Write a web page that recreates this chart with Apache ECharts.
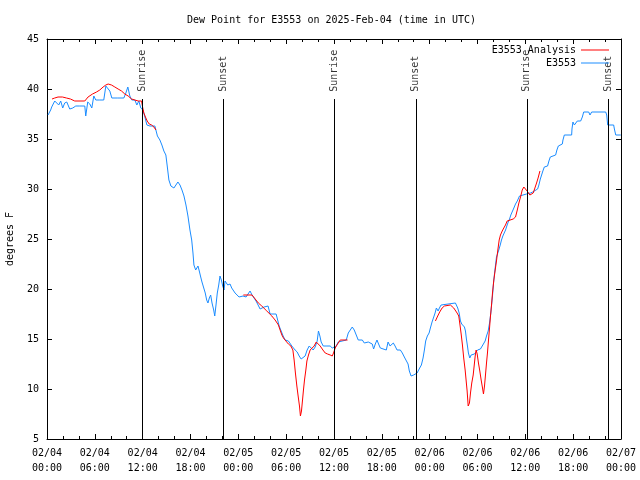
<!DOCTYPE html>
<html>
<head>
<meta charset="utf-8">
<script src="https://cdn.jsdelivr.net/npm/echarts@6/dist/echarts.min.js"></script>
<style>html,body{margin:0;padding:0;background:#fff}#c{width:640px;height:480px}</style>
</head>
<body>
<div id="c"></div>
<script>
// ---- data (hours since 02/04 00:00 UTC, degrees F) ----
const xTickLabels = ['02/04\n00:00','02/04\n06:00','02/04\n12:00','02/04\n18:00','02/05\n00:00','02/05\n06:00','02/05\n12:00','02/05\n18:00','02/06\n00:00','02/06\n06:00','02/06\n12:00','02/06\n18:00','02/07\n00:00'];
const eventHours = [11.97, 22.12, 36.07, 46.27, 60.19, 70.37];
const eventNames = ['Sunrise','Sunset','Sunrise','Sunset','Sunrise','Sunset'];

const blueHours = [0.13,0.34,0.46,0.59,0.97,1.22,1.47,1.72,1.97,2.22,2.48,2.85,3.23,3.61,4.11,4.74,4.86,5.11,5.37,5.62,5.87,6.12,6.62,7.12,7.38,7.63,7.88,8.13,8.88,9.64,9.89,10.14,10.39,10.64,11.02,11.27,11.52,11.77,12.03,12.28,12.53,12.91,13.53,13.66,13.85,14.16,14.41,14.66,14.91,15.08,15.29,15.54,15.92,16.17,16.42,16.68,16.93,17.18,17.43,17.68,17.93,18.15,18.31,18.43,18.65,18.81,18.94,19.10,19.28,19.44,19.69,19.85,20.03,20.19,20.36,20.53,20.70,20.91,21.04,21.20,21.36,21.54,21.70,21.87,22.04,22.21,22.33,22.49,22.67,22.83,22.96,23.17,23.37,23.59,23.84,24.09,24.34,24.59,24.81,24.97,25.22,25.47,25.72,25.97,26.22,26.48,26.73,26.98,27.23,27.48,27.73,27.98,28.74,28.90,29.12,29.37,29.62,29.87,30.12,30.28,30.50,30.71,30.91,31.12,31.38,31.63,31.88,32.13,32.38,32.63,32.89,33.14,33.39,33.64,33.89,34.05,34.23,34.39,34.65,34.86,35.11,35.31,35.52,35.78,36.03,36.28,36.53,36.78,37.54,37.79,38.04,38.29,38.54,38.79,39.04,39.29,39.55,39.80,40.05,40.30,40.55,40.80,40.97,41.18,41.39,41.59,41.81,42.06,42.56,42.78,43.03,43.19,43.44,43.66,43.91,44.11,44.32,44.57,44.82,45.07,45.29,45.45,45.67,45.83,45.99,46.42,46.58,46.75,46.96,47.17,47.34,47.50,47.71,47.93,48.09,48.30,48.47,48.68,48.84,49.06,49.22,49.43,49.60,51.23,51.36,51.52,51.70,51.86,52.02,52.20,52.36,52.49,52.61,52.74,52.86,53.03,53.20,53.62,53.83,54.00,54.37,54.59,54.75,54.96,55.13,55.34,55.51,55.67,55.79,55.88,56.01,56.13,56.26,56.38,56.55,56.67,56.85,57.01,57.18,57.35,57.52,57.68,57.85,58.02,58.18,58.39,58.56,58.77,58.99,59.15,59.27,59.44,60.15,60.65,60.91,61.12,61.54,61.70,61.88,62.04,62.20,62.38,62.79,62.96,63.13,63.80,63.96,64.14,64.64,64.72,64.89,65.81,65.85,65.97,66.15,66.31,66.52,66.94,67.15,67.32,67.95,68.11,68.32,70.08,70.21,70.33,71.08,71.17,71.34,71.97];
const blueValues = [37.4,37.4,37.9,38.2,38.8,38.9,38.4,38.8,38.1,38.6,38.7,38.0,38.1,38.3,38.3,38.3,37.3,38.7,38.5,38.1,39.3,38.9,38.9,38.9,40.3,40.1,39.8,39.1,39.1,39.1,39.6,40.2,39.3,38.9,38.9,38.4,38.8,38.1,37.9,37.2,36.4,36.3,36.3,35.9,35.3,34.9,34.4,33.8,33.4,32.3,30.9,30.3,30.1,29.9,30.7,30.4,29.9,29.3,28.4,27.3,25.9,24.9,23.6,22.4,21.9,22.1,22.3,21.8,21.2,20.7,20.6,19.6,18.9,18.6,19.1,19.4,18.6,17.9,17.3,18.4,19.6,20.4,21.3,20.9,20.3,19.9,20.8,21.0,20.4,20.3,20.5,20.1,19.9,19.6,19.4,19.2,19.1,19.3,19.4,19.2,19.5,19.8,19.4,19.2,18.8,18.4,18.0,18.0,18.2,18.4,18.3,17.5,17.5,17.0,16.3,15.8,15.3,14.9,14.7,14.8,14.7,14.3,14.2,13.9,13.7,13.3,13.0,13.0,13.3,13.9,14.3,14.2,13.9,14.2,14.8,15.8,15.3,14.7,14.3,14.1,14.3,14.5,14.3,14.1,14.1,14.3,14.7,14.9,14.9,15.6,15.9,16.2,15.9,15.4,14.9,14.8,14.9,14.6,14.5,14.7,14.9,14.5,14.0,14.5,14.9,14.5,14.1,13.9,13.9,14.7,14.3,14.2,14.6,14.3,13.9,13.8,13.9,13.6,13.2,13.1,12.5,11.8,11.3,11.1,11.4,11.6,11.8,12.1,12.4,13.1,13.9,14.8,15.3,15.6,16.1,16.7,16.9,17.6,18.1,17.8,18.1,18.4,18.6,18.6,18.4,18.1,17.6,16.8,16.5,16.4,16.2,15.8,15.0,14.3,13.6,13.1,13.4,13.5,13.6,13.9,14.0,14.3,14.5,14.8,15.3,15.8,16.6,17.6,18.6,19.3,20.6,21.5,22.4,23.2,23.3,23.9,24.4,24.9,25.3,25.6,25.9,26.3,26.7,27.0,27.4,27.6,28.1,28.5,28.8,28.9,29.3,29.4,29.5,29.6,29.7,29.9,30.0,30.4,31.0,31.4,31.8,32.2,32.3,32.8,33.2,33.4,33.9,34.3,34.5,34.9,35.4,35.4,36.0,36.7,36.4,36.5,36.8,36.8,37.2,37.7,37.7,37.4,37.7,37.7,37.4,36.4,36.4,36.0,35.4,35.4];

const redHours1 = [0.63,0.97,1.38,1.94,2.44,2.94,3.48,4.74,5.15,5.71,6.21,6.62,7.04,7.38,7.67,8.09,8.51,8.92,9.35,9.76,10.18,10.61,11.02,11.44,11.86,11.99,12.15,12.40,12.57,12.82,13.12,13.41,13.66];
const redValues1 = [39.0,39.1,39.2,39.2,39.1,39.0,38.8,38.8,39.2,39.5,39.7,39.9,40.2,40.4,40.5,40.4,40.2,40.0,39.8,39.5,39.3,39.0,38.9,38.8,38.8,38.2,37.6,37.1,36.8,36.5,36.4,36.2,35.9];
const redHours2 = [24.63,25.72,26.51,26.94,27.57,28.20,28.61,29.03,29.24,29.46,29.66,29.96,30.28,30.59,30.84,31.00,31.16,31.34,31.50,31.67,31.79,31.92,32.04,32.17,32.30,32.47,32.60,32.80,33.01,33.22,33.51,33.77,33.93,34.27,34.61,34.90,35.19,35.52,35.78,35.94,36.15,36.37,36.57,36.78,37.70];
const redValues2 = [19.4,19.4,18.6,18.3,17.8,17.3,16.9,16.4,15.9,15.4,15.1,14.8,14.5,14.3,13.9,12.9,11.6,10.3,9.3,8.3,7.3,7.8,8.8,9.9,10.9,11.9,12.8,13.4,13.9,14.1,14.3,14.7,14.5,14.3,13.9,13.6,13.5,13.4,13.3,13.6,14.1,14.4,14.6,14.9,14.9];
const redHours3 = [48.72,49.01,49.26,49.56,49.85,50.60,51.02,51.44,51.65,51.77,51.95,52.11,52.27,52.45,52.58,52.70,52.83,52.99,53.12,53.28,53.46,53.58,53.71,53.83,53.96,54.12,54.29,54.46,54.63,54.75,54.88,55.00,55.13,55.25,55.38,55.51,55.63,55.76,55.88,56.05,56.22,56.38,56.55,56.72,56.88,57.10,57.30,57.51,57.72,57.93,58.48,58.77,58.99,59.19,59.40,59.61,59.81,60.02,60.32,60.57,60.78,60.99,61.20,61.41,61.60,61.83];
const redValues3 = [16.8,17.3,17.7,18.1,18.3,18.4,18.1,17.6,17.3,16.6,15.5,14.4,13.1,11.9,10.8,9.8,8.3,8.6,9.6,10.6,11.4,12.3,13.3,13.9,13.5,12.6,11.8,10.9,10.1,9.5,10.3,11.4,12.6,13.6,14.9,16.1,17.3,18.4,19.6,20.9,21.9,22.8,23.9,24.9,25.4,25.8,26.1,26.4,26.8,26.9,27.0,27.2,27.9,28.6,29.2,29.9,30.2,30.0,29.7,29.4,29.3,29.6,30.1,30.6,31.1,31.8];

// ---- chart ----
const FONT = 'DejaVu Sans Mono';
const RED = '#ff0000', BLUE = '#1a8cff';
const zip = (a, b) => a.map((v, i) => [v, b[i]]);
const lineTop = 39, labelAnchor = 39.72;

function xAxisCfg(pos, labels) {
  return {
    type: 'value', min: 0, max: 72, interval: 6, position: pos,
    axisLine: { show: true, onZero: false, lineStyle: { color: '#000', width: 1 } },
    axisTick: { show: true, inside: true, length: 5, lineStyle: { color: '#000' } },
    minorTick: { show: true, splitNumber: 3, length: 3, lineStyle: { color: '#000' } },
    splitLine: { show: false }, minorSplitLine: { show: false },
    axisLabel: labels ? {
      show: true, showMinLabel: true, showMaxLabel: true, hideOverlap: false,
      formatter: v => xTickLabels[Math.round(v / 6)],
      fontFamily: FONT, fontSize: 10, color: '#000', lineHeight: 15, margin: 7
    } : { show: false }
  };
}
function yAxisCfg(pos, labels) {
  const c = {
    type: 'value', min: 5, max: 45, interval: 5, position: pos,
    axisLine: { show: true, onZero: false, lineStyle: { color: '#000', width: 1 } },
    axisTick: { show: true, inside: true, length: 5, lineStyle: { color: '#000' } },
    splitLine: { show: false },
    axisLabel: labels ? { show: true, fontFamily: FONT, fontSize: 10, color: '#000', margin: 8 } : { show: false }
  };
  if (labels) {
    c.name = 'degrees F'; c.nameLocation = 'middle'; c.nameGap = 32; c.nameRotate = 90;
    c.nameTextStyle = { fontFamily: FONT, fontSize: 10, color: '#000' };
  }
  return c;
}

const redSeries = [[redHours1, redValues1], [redHours2, redValues2], [redHours3, redValues3]].map(([h, v]) => ({
  name: 'E3553 Analysis', type: 'line', data: zip(h, v), showSymbol: false, symbol: 'none',
  lineStyle: { color: RED, width: 1 }, itemStyle: { color: RED }, z: 4
}));

const legendText = { fontFamily: FONT, fontSize: 10, color: '#000' };
const option = {
  animation: false,
  backgroundColor: '#fff',
  title: { text: 'Dew Point for E3553 on 2025-Feb-04 (time in UTC)', left: 187, top: 15, padding: 0,
    textStyle: { fontFamily: FONT, fontSize: 10, fontWeight: 'normal', color: '#000' } },
  grid: { left: 47, right: 19, top: 39, bottom: 41, containLabel: false, outerBoundsMode: 'none' },
  legend: [
    { data: [{ name: 'E3553 Analysis', icon: 'rect' }], right: 31, top: 45, padding: 0, align: 'right', itemWidth: 28, itemHeight: 1, itemGap: 0, textStyle: legendText },
    { data: [{ name: 'E3553', icon: 'rect' }], right: 31, top: 58, padding: 0, align: 'right', itemWidth: 28, itemHeight: 1, itemGap: 0, textStyle: legendText }
  ],
  xAxis: [xAxisCfg('bottom', true), xAxisCfg('top', false)],
  yAxis: [yAxisCfg('left', true), yAxisCfg('right', false)],
  series: [
    {
      name: 'events', type: 'scatter', symbolSize: 1, itemStyle: { color: 'transparent' },
      data: eventHours.map(h => [h, labelAnchor]),
      label: { show: true, position: 'inside', rotate: 90, align: 'left', verticalAlign: 'middle',
        formatter: p => eventNames[p.dataIndex], fontFamily: FONT, fontSize: 10, color: '#000' },
      markLine: { silent: true, symbol: 'none', label: { show: false },
        lineStyle: { color: '#000', width: 1, type: 'solid' },
        data: eventHours.map(h => [{ coord: [h, 5] }, { coord: [h, lineTop] }]) },
      z: 2
    },
    ...redSeries,
    { name: 'E3553', type: 'line', data: zip(blueHours, blueValues), showSymbol: false, symbol: 'none',
      lineStyle: { color: BLUE, width: 1 }, itemStyle: { color: BLUE }, z: 3 }
  ]
};
const chart = echarts.init(document.getElementById('c'), null, { renderer: 'canvas' });
chart.setOption(option);
</script>
</body>
</html>
